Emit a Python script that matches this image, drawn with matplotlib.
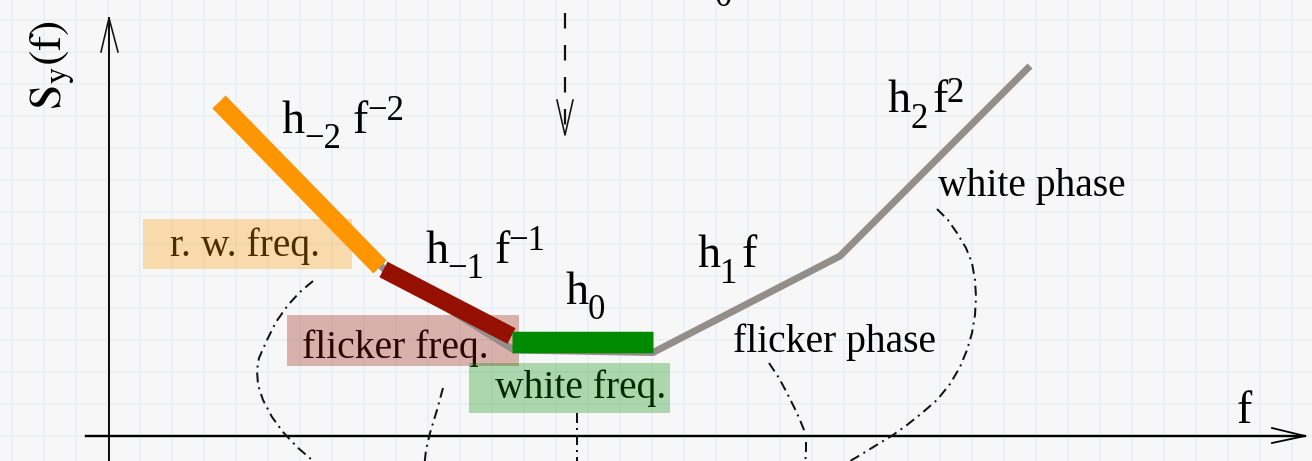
import matplotlib
matplotlib.use('Agg')
import matplotlib.pyplot as plt
from matplotlib.patches import Rectangle
import numpy as np

plt.rcParams['mathtext.fontset'] = 'stix'
plt.rcParams['font.family'] = ['Liberation Serif', 'DejaVu Serif']
plt.rcParams['lines.scale_dashes'] = False

W, H = 1312, 461
PX = 0.72  # points per pixel at dpi 100

# sketch coordinates: x to the right, y downwards
rw_x, rw_y = [219, 380], [102, 267]              # h_-2 f^-2  random walk freq.
fl_x, fl_y = [383.5, 511.5], [269.5, 336]        # h_-1 f^-1  flicker freq.
wf_x, wf_y = [512, 653], [342, 342]              # h_0        white freq.
total_x = [222, 384, 514, 653, 840, 1030]        # full spectrum, grey
total_y = [104, 269, 350, 352.5, 256, 66]

# boxes: (left, top, right, bottom), label, colour
boxes = [
    ((143, 219, 352, 269), 'r. w. freq.', '#ff9900'),
    ((287, 315, 519, 366), 'flicker freq.', '#951000'),
    ((469, 363, 670, 413), 'white freq.', '#008a00'),
]
box_text_pos = [(170, 256), (302, 358), (495, 398)]

# power-law labels, piece by piece: (x, baseline, text, size)
BIG, SMALL = 33, 25
law_labels = [
    [(282, 133, 'h', BIG), (304, 148, '\u22122', SMALL), (353, 133, 'f', BIG), (367, 120, '\u22122', SMALL)],
    [(425, 263, 'h', BIG), (447, 278, '\u22121', SMALL), (495, 263, 'f', BIG), (508, 250, '\u22121', SMALL)],
    [(565, 304, 'h', BIG), (588, 319, '0', SMALL)],
    [(697, 267, 'h', BIG), (720, 283, '1', SMALL), (742, 267, 'f', BIG)],
    [(888, 112, 'h', BIG), (911, 128, '2', SMALL), (933, 112, 'f', BIG), (947, 102, '2', SMALL)],
]
phase_labels = [(733, 352, 'flicker phase'), (938, 196, 'white phase')]

# dash-dot leaders from the labels
leaders = [
    [(313, 281), (300, 292), (288, 305), (276, 322), (267, 340), (259, 358), (257, 370),
     (258, 385), (263, 400), (272, 417), (283, 432), (297, 447), (312, 460), (322, 468)],
    [(443, 388), (437, 410), (430, 433), (426, 450), (424, 468)],
    [(577, 413), (577, 468)],
    [(769, 363), (779, 378), (787, 393), (794, 407), (800, 420), (804, 430), (806, 440),
     (806, 450), (805, 468)],
    [(937, 209), (948, 220), (957, 233), (966, 248), (972, 263), (975, 280), (976, 297),
     (975, 315), (972, 333), (967, 350), (960, 367), (950, 384), (937, 400), (922, 413),
     (907, 425), (893, 435), (875, 446), (857, 457), (845, 464)],
]

fig = plt.figure(figsize=(W / 100, H / 100), dpi=100)
ax = fig.add_axes([0, 0, 1, 1])
ax.set_xlim(0, W)
ax.set_ylim(H, 0)
ax.set_facecolor('#f7f7f7')
for s in ax.spines.values():
    s.set_visible(False)
ax.set_xticks(np.arange(12, W, 32))
ax.set_yticks(np.arange(20, H, 32))
ax.tick_params(length=0, labelbottom=False, labelleft=False)
ax.grid(color='#e6f0f6', lw=1.6 * PX)
ax.set_axisbelow(True)

# axes with open arrow heads
ax.plot([109, 109], [470, 18], color='#111111', lw=2 * PX, zorder=2)
ax.plot([101, 109, 118], [52, 18, 52], color='#111111', lw=1.6 * PX, zorder=2)
ax.plot([86, 1305], [436, 436], color='black', lw=2.4 * PX, zorder=2)
ax.plot([1272, 1305, 1272], [428, 436, 443], color='black', lw=1.8 * PX, zorder=2)
ax.text(1237, 423, 'f', fontsize=BIG, va='baseline', ha='left')
ax.text(61, 110, r'$\mathrm{S}_{\mathrm{y}}(\mathrm{f})$', fontsize=BIG, rotation=90,
        rotation_mode='anchor', ha='left', va='baseline')

# dashed arrow coming from above
ax.plot([565, 565], [13, 126], color='#111111', lw=2.2 * PX, dashes=(15.5 * PX, 16.5 * PX))
ax.plot([557, 565, 573], [100, 135, 100], color='#111111', lw=1.6 * PX)
ax.text(723, 6, '0', fontsize=SMALL, ha='center', va='baseline')

# spectrum
ax.plot(total_x, total_y, color='#948e8b', lw=7 * PX, solid_joinstyle='miter',
        solid_capstyle='butt', zorder=3)
ax.plot(rw_x, rw_y, color='#ff9600', lw=18.5 * PX, solid_capstyle='butt', zorder=4)
ax.plot(fl_x, fl_y, color='#951000', lw=17.5 * PX, solid_capstyle='butt', zorder=4)
ax.plot(wf_x, wf_y, color='#008a00', lw=21.5 * PX, solid_capstyle='butt', zorder=4)

for parts in law_labels:
    for x, y, s, fs in parts:
        ax.text(x, y, s, fontsize=fs, ha='left', va='baseline')
for x, y, s in phase_labels:
    ax.text(x, y, s, fontsize=28.5, ha='left', va='baseline')

# highlighted labels: text first, translucent box over it
for ((l, t, r, b), s, c), (tx, ty) in zip(boxes, box_text_pos):
    ax.text(tx, ty, s, fontsize=28.5, ha='left', va='baseline', color='black', zorder=1)
    ax.add_patch(Rectangle((l, t), r - l, b - t, facecolor=c, edgecolor='none',
                           alpha=0.3, zorder=2))

for pts in leaders:
    xs, ys = zip(*pts)
    ax.plot(xs, ys, color='#111111', lw=2 * PX,
            dashes=(10 * PX, 5 * PX, 2 * PX, 5 * PX))

fig.savefig('out.png', dpi=100)
